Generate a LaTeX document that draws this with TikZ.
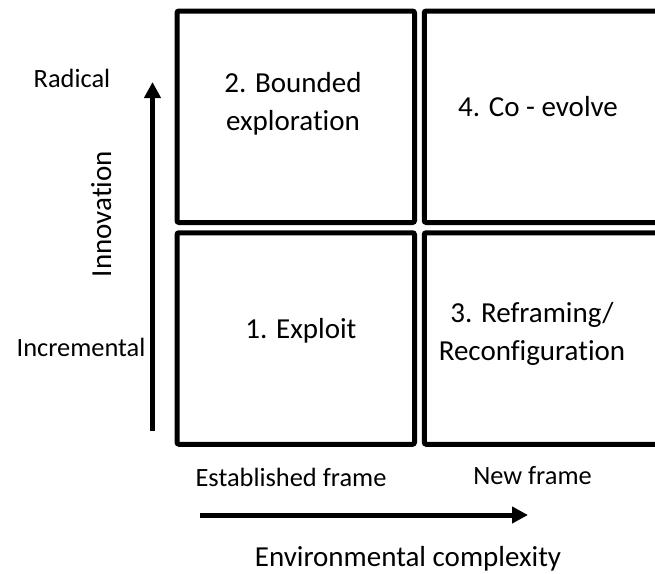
\documentclass[tikz,border=0pt]{standalone}
\usepackage{fontspec}
\setmainfont{Carlito}[Ligatures=NoCommon]
\usetikzlibrary{arrows.meta}
\begin{document}
\begin{tikzpicture}[x=1pt,y=-1pt,
  quad/.style={draw,line width=5pt,rounded corners=2pt,inner sep=0pt,
    minimum width=237.5pt,minimum height=211.5pt},
  bigtext/.style={font=\fontsize{29}{38}\selectfont,align=center,anchor=base,inner sep=0pt},
  smalltext/.style={font=\fontsize{26.4}{32}\selectfont,anchor=base,inner sep=0pt},
  axis/.style={line width=5pt,-{Triangle[width=16pt,length=16pt]}}]
\useasboundingbox (0,0) rectangle (655,573);
\clip (0,0) rectangle (655,573);

% the four quadrants
\node[quad] (q2) at (295.75,116.75) {};
\node[quad] (q1) at (295.75,338.5) {};
\node[quad] (q4) at (543,116.75) {};
\node[quad] (q3) at (543,338.5) {};

% quadrant labels (base anchor sits on the last line)
\node[bigtext] (t2) at (293,130) {2. Bounded\\exploration};
\node[bigtext] (t4) at (538,116) {4. Co - evolve};
\node[bigtext] (t1) at (301,338) {1. Exploit};
\node[bigtext] (t3) at (532,360) {3. Reframing/\\Reconfiguration};

% vertical axis
\coordinate (vb) at (152.5,431);
\coordinate (vt) at (152.5,82);
\draw[axis] (vb) -- (vt);
\node[smalltext] (rad) at (72,87) {Radical};
\node[smalltext] (inc) at (81,356.7) {Incremental};
\node[bigtext,rotate=90] (inn) at (111,214) {Innovation};

% horizontal axis
\coordinate (hl) at (200,515);
\coordinate (hr) at (528,515);
\draw[axis] (hl) -- (hr);
\node[smalltext] (est) at (291,486.7) {Established frame};
\node[smalltext] (new) at (532.5,484) {New frame};
\node[bigtext] (env) at (408,566.7) {Environmental complexity};
\end{tikzpicture}
\end{document}
